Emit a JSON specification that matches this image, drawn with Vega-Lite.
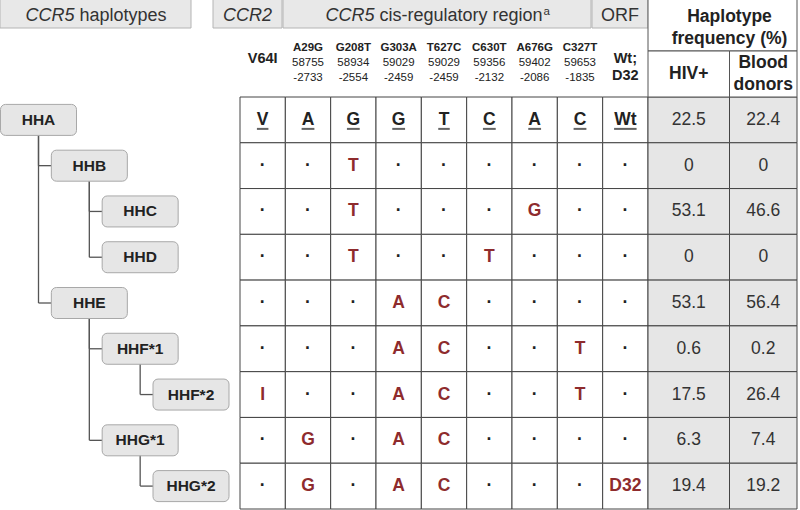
{
 "$schema": "https://vega.github.io/schema/vega-lite/v6.json",
 "width": 800, "height": 510, "padding": 0, "autosize": {"type": "none"},
 "background": "#ffffff",
 "config": {"view": {"stroke": null}, "text": {"font": "Liberation Sans"}},
 "datasets": {
  "cells": [
   {"r":0,"c":0,"a":"V"},{"r":0,"c":1,"a":"A"},{"r":0,"c":2,"a":"G"},{"r":0,"c":3,"a":"G"},{"r":0,"c":4,"a":"T"},{"r":0,"c":5,"a":"C"},{"r":0,"c":6,"a":"A"},{"r":0,"c":7,"a":"C"},{"r":0,"c":8,"a":"Wt"},
   {"r":1,"c":0,"a":"·"},{"r":1,"c":1,"a":"·"},{"r":1,"c":2,"a":"T"},{"r":1,"c":3,"a":"·"},{"r":1,"c":4,"a":"·"},{"r":1,"c":5,"a":"·"},{"r":1,"c":6,"a":"·"},{"r":1,"c":7,"a":"·"},{"r":1,"c":8,"a":"·"},
   {"r":2,"c":0,"a":"·"},{"r":2,"c":1,"a":"·"},{"r":2,"c":2,"a":"T"},{"r":2,"c":3,"a":"·"},{"r":2,"c":4,"a":"·"},{"r":2,"c":5,"a":"·"},{"r":2,"c":6,"a":"G"},{"r":2,"c":7,"a":"·"},{"r":2,"c":8,"a":"·"},
   {"r":3,"c":0,"a":"·"},{"r":3,"c":1,"a":"·"},{"r":3,"c":2,"a":"T"},{"r":3,"c":3,"a":"·"},{"r":3,"c":4,"a":"·"},{"r":3,"c":5,"a":"T"},{"r":3,"c":6,"a":"·"},{"r":3,"c":7,"a":"·"},{"r":3,"c":8,"a":"·"},
   {"r":4,"c":0,"a":"·"},{"r":4,"c":1,"a":"·"},{"r":4,"c":2,"a":"·"},{"r":4,"c":3,"a":"A"},{"r":4,"c":4,"a":"C"},{"r":4,"c":5,"a":"·"},{"r":4,"c":6,"a":"·"},{"r":4,"c":7,"a":"·"},{"r":4,"c":8,"a":"·"},
   {"r":5,"c":0,"a":"·"},{"r":5,"c":1,"a":"·"},{"r":5,"c":2,"a":"·"},{"r":5,"c":3,"a":"A"},{"r":5,"c":4,"a":"C"},{"r":5,"c":5,"a":"·"},{"r":5,"c":6,"a":"·"},{"r":5,"c":7,"a":"T"},{"r":5,"c":8,"a":"·"},
   {"r":6,"c":0,"a":"I"},{"r":6,"c":1,"a":"·"},{"r":6,"c":2,"a":"·"},{"r":6,"c":3,"a":"A"},{"r":6,"c":4,"a":"C"},{"r":6,"c":5,"a":"·"},{"r":6,"c":6,"a":"·"},{"r":6,"c":7,"a":"T"},{"r":6,"c":8,"a":"·"},
   {"r":7,"c":0,"a":"·"},{"r":7,"c":1,"a":"G"},{"r":7,"c":2,"a":"·"},{"r":7,"c":3,"a":"A"},{"r":7,"c":4,"a":"C"},{"r":7,"c":5,"a":"·"},{"r":7,"c":6,"a":"·"},{"r":7,"c":7,"a":"·"},{"r":7,"c":8,"a":"·"},
   {"r":8,"c":0,"a":"·"},{"r":8,"c":1,"a":"G"},{"r":8,"c":2,"a":"·"},{"r":8,"c":3,"a":"A"},{"r":8,"c":4,"a":"C"},{"r":8,"c":5,"a":"·"},{"r":8,"c":6,"a":"·"},{"r":8,"c":7,"a":"·"},{"r":8,"c":8,"a":"D32"}
  ],
  "freq": [
   {"r":0,"g":"HIV+","v":22.5},{"r":0,"g":"Blood donors","v":22.4},
   {"r":1,"g":"HIV+","v":0},{"r":1,"g":"Blood donors","v":0},
   {"r":2,"g":"HIV+","v":53.1},{"r":2,"g":"Blood donors","v":46.6},
   {"r":3,"g":"HIV+","v":0},{"r":3,"g":"Blood donors","v":0},
   {"r":4,"g":"HIV+","v":53.1},{"r":4,"g":"Blood donors","v":56.4},
   {"r":5,"g":"HIV+","v":0.6},{"r":5,"g":"Blood donors","v":0.2},
   {"r":6,"g":"HIV+","v":17.5},{"r":6,"g":"Blood donors","v":26.4},
   {"r":7,"g":"HIV+","v":6.3},{"r":7,"g":"Blood donors","v":7.4},
   {"r":8,"g":"HIV+","v":19.4},{"r":8,"g":"Blood donors","v":19.2}
  ],
  "header": [
   {"cell":"haplotypes","tier":"region","x0":0,"x1":1,"y0":0,"y1":1,"gene":"CCR5","rest":"haplotypes"},
   {"cell":"CCR2","tier":"region","x0":2,"x1":3,"y0":0,"y1":1,"gene":"CCR2","rest":""},
   {"cell":"cis","tier":"region","x0":4,"x1":5,"y0":0,"y1":1,"gene":"CCR5","rest":"cis-regulatory region","sup":"a"},
   {"cell":"ORF","tier":"region","x0":6,"x1":7,"y0":0,"y1":1,"gene":"","rest":"ORF"},
   {"cell":"Haplotype\nfrequency (%)","tier":"frequency","x0":7,"x1":9,"y0":0,"y1":2},
   {"cell":"HIV+","tier":"frequency","x0":7,"x1":8,"y0":2,"y1":3},
   {"cell":"Blood\ndonors","tier":"frequency","x0":8,"x1":9,"y0":2,"y1":3}
  ],
  "snps": [
   {"c":0,"name":"V64I"},
   {"c":1,"name":"A29G","pos":"58755","rel":"-2733"},
   {"c":2,"name":"G208T","pos":"58934","rel":"-2554"},
   {"c":3,"name":"G303A","pos":"59029","rel":"-2459"},
   {"c":4,"name":"T627C","pos":"59029","rel":"-2459"},
   {"c":5,"name":"C630T","pos":"59356","rel":"-2132"},
   {"c":6,"name":"A676G","pos":"59402","rel":"-2086"},
   {"c":7,"name":"C327T","pos":"59653","rel":"-1835"},
   {"c":8,"name":"Wt;\nD32"}
  ],
  "tree": [
   {"hap":"HHA","r":0,"lvl":0},
   {"hap":"HHB","r":1,"lvl":1,"pr":0,"plvl":0},
   {"hap":"HHC","r":2,"lvl":2,"pr":1,"plvl":1},
   {"hap":"HHD","r":3,"lvl":2,"pr":1,"plvl":1},
   {"hap":"HHE","r":4,"lvl":1,"pr":0,"plvl":0},
   {"hap":"HHF*1","r":5,"lvl":2,"pr":4,"plvl":1},
   {"hap":"HHF*2","r":6,"lvl":3,"pr":5,"plvl":2},
   {"hap":"HHG*1","r":7,"lvl":2,"pr":4,"plvl":1},
   {"hap":"HHG*2","r":8,"lvl":3,"pr":7,"plvl":2}
  ]
 },
 "resolve": {"scale": {"x": "independent", "y": "independent"}},
 "layer": [
  {
   "data": {"name": "cells"},
   "layer": [
    {"mark": {"type": "rect", "fill": "#ffffff", "stroke": "#444444", "strokeWidth": 1},
     "encoding": {
      "x": {"field": "c", "type": "ordinal", "axis": null, "scale": {"type": "band", "domain": [0,1,2,3,4,5,6,7,8], "range": [240, 648], "paddingInner": 0, "paddingOuter": 0}},
      "y": {"field": "r", "type": "ordinal", "axis": null, "scale": {"type": "band", "domain": [0,1,2,3,4,5,6,7,8], "range": [97, 509], "paddingInner": 0, "paddingOuter": 0}}
     }},
    {"mark": {"type": "text", "fontSize": 17.5, "fontWeight": "bold", "baseline": "middle", "align": "center"},
     "encoding": {
      "x": {"field": "c", "type": "ordinal", "axis": null, "scale": {"type": "band", "domain": [0,1,2,3,4,5,6,7,8], "range": [240, 648], "paddingInner": 0, "paddingOuter": 0}},
      "y": {"field": "r", "type": "ordinal", "axis": null, "scale": {"type": "band", "domain": [0,1,2,3,4,5,6,7,8], "range": [97, 509], "paddingInner": 0, "paddingOuter": 0}},
      "text": {"field": "a", "type": "nominal"},
      "color": {"condition": {"test": "datum.r == 0 || datum.a == '·'", "value": "#222222"}, "value": "#8e2b2d"}
     }},
    {"transform": [{"filter": "datum.r == 0"}],
     "mark": {"type": "tick", "orient": "horizontal", "thickness": 2, "yOffset": 9, "color": "#222222"},
     "encoding": {
      "x": {"field": "c", "type": "ordinal", "axis": null, "scale": {"type": "band", "domain": [0,1,2,3,4,5,6,7,8], "range": [240, 648], "paddingInner": 0, "paddingOuter": 0}},
      "y": {"field": "r", "type": "ordinal", "axis": null, "scale": {"type": "band", "domain": [0,1,2,3,4,5,6,7,8], "range": [97, 509], "paddingInner": 0, "paddingOuter": 0}},
      "size": {"condition": [{"test": "datum.a == 'Wt'", "value": 22.5}, {"test": "datum.a == 'V' || datum.a == 'T'", "value": 11.5}], "value": 12.8}
     }}
   ]
  },
  {
   "data": {"name": "freq"},
   "transform": [
    {"calculate": "datum.g == 'HIV+' ? 0 : 1", "as": "gi"},
    {"calculate": "datum.gi + 1", "as": "gi1"},
    {"calculate": "datum.gi + 0.5", "as": "gc"}
   ],
   "layer": [
    {"mark": {"type": "rect", "fill": "#e6e6e6", "stroke": "#444444", "strokeWidth": 1},
     "encoding": {
      "x": {"field": "gi", "type": "quantitative", "axis": null, "scale": {"type": "linear", "domain": [0,1,2], "range": [648, 729.5, 797], "nice": false, "zero": false}},
      "x2": {"field": "gi1"},
      "y": {"field": "r", "type": "ordinal", "axis": null, "scale": {"type": "band", "domain": [0,1,2,3,4,5,6,7,8], "range": [97, 509], "paddingInner": 0, "paddingOuter": 0}}
     }},
    {"mark": {"type": "text", "fontSize": 17.5, "color": "#333333", "baseline": "middle", "align": "center"},
     "encoding": {
      "x": {"field": "gc", "type": "quantitative", "axis": null, "scale": {"type": "linear", "domain": [0,1,2], "range": [648, 729.5, 797], "nice": false, "zero": false}},
      "y": {"field": "r", "type": "ordinal", "axis": null, "scale": {"type": "band", "domain": [0,1,2,3,4,5,6,7,8], "range": [97, 509], "paddingInner": 0, "paddingOuter": 0}},
      "text": {"field": "v", "type": "nominal"}
     }}
   ]
  },
  {
   "data": {"name": "header"},
   "transform": [
    {"calculate": "(datum.x0 + datum.x1) / 2", "as": "xm"},
    {"calculate": "(datum.y0 + datum.y1) / 2", "as": "ym"}
   ],
   "layer": [
    {"mark": {"type": "rect", "strokeWidth": 1},
     "encoding": {
      "x": {"field": "x0", "type": "quantitative", "axis": null, "scale": {"type": "linear", "domain": [0,1,2,3,4,5,6,7,8,9], "range": [0,191,213,282,283,591,592,648,729.5,797], "nice": false, "zero": false}},
      "x2": {"field": "x1"},
      "y": {"field": "y0", "type": "quantitative", "axis": null, "scale": {"type": "linear", "domain": [0,1,2,3], "range": [-1,28,51,97], "nice": false, "zero": false}},
      "y2": {"field": "y1"},
      "fill": {"condition": {"test": "datum.tier == 'region'", "value": "#e8e8e8"}, "value": "#ffffff"},
      "stroke": {"condition": {"test": "datum.tier == 'region'", "value": "#b4b4b4"}, "value": "#555555"}
     }},
    {"transform": [{"filter": "datum.cell == 'HIV+'"}],
     "mark": {"type": "text", "fontSize": 17.5, "fontWeight": "bold", "color": "#222222", "baseline": "middle", "align": "center"},
     "encoding": {
      "x": {"field": "xm", "type": "quantitative", "axis": null, "scale": {"type": "linear", "domain": [0,1,2,3,4,5,6,7,8,9], "range": [0,191,213,282,283,591,592,648,729.5,797], "nice": false, "zero": false}},
      "y": {"field": "ym", "type": "quantitative", "axis": null, "scale": {"type": "linear", "domain": [0,1,2,3], "range": [-1,28,51,97], "nice": false, "zero": false}},
      "text": {"field": "cell", "type": "nominal"}
     }},
    {"transform": [{"filter": "datum.tier == 'frequency' && datum.cell != 'HIV+'"}],
     "mark": {"type": "text", "fontSize": 17.5, "fontWeight": "bold", "color": "#222222", "baseline": "middle", "align": "center", "lineBreak": "\n", "lineHeight": 22, "dy": -11},
     "encoding": {
      "x": {"field": "xm", "type": "quantitative", "axis": null, "scale": {"type": "linear", "domain": [0,1,2,3,4,5,6,7,8,9], "range": [0,191,213,282,283,591,592,648,729.5,797], "nice": false, "zero": false}},
      "y": {"field": "ym", "type": "quantitative", "axis": null, "scale": {"type": "linear", "domain": [0,1,2,3], "range": [-1,28,51,97], "nice": false, "zero": false}},
      "text": {"field": "cell", "type": "nominal"}
     }},
    {"transform": [{"filter": "datum.cell == 'haplotypes'"}],
     "mark": {"type": "text", "fontSize": 18, "fontStyle": "italic", "color": "#333333", "baseline": "alphabetic", "align": "right", "dx": -21, "dy": -7.5},
     "encoding": {
      "x": {"field": "xm", "type": "quantitative", "axis": null, "scale": {"type": "linear", "domain": [0,1,2,3,4,5,6,7,8,9], "range": [0,191,213,282,283,591,592,648,729.5,797], "nice": false, "zero": false}},
      "y": {"field": "y1", "type": "quantitative", "axis": null, "scale": {"type": "linear", "domain": [0,1,2,3], "range": [-1,28,51,97], "nice": false, "zero": false}},
      "text": {"field": "gene", "type": "nominal"}
     }},
    {"transform": [{"filter": "datum.cell == 'haplotypes'"}],
     "mark": {"type": "text", "fontSize": 18, "color": "#333333", "baseline": "alphabetic", "align": "left", "dx": -16, "dy": -7.5},
     "encoding": {
      "x": {"field": "xm", "type": "quantitative", "axis": null, "scale": {"type": "linear", "domain": [0,1,2,3,4,5,6,7,8,9], "range": [0,191,213,282,283,591,592,648,729.5,797], "nice": false, "zero": false}},
      "y": {"field": "y1", "type": "quantitative", "axis": null, "scale": {"type": "linear", "domain": [0,1,2,3], "range": [-1,28,51,97], "nice": false, "zero": false}},
      "text": {"field": "rest", "type": "nominal"}
     }},
    {"transform": [{"filter": "datum.cell == 'CCR2'"}],
     "mark": {"type": "text", "fontSize": 18, "fontStyle": "italic", "color": "#333333", "baseline": "alphabetic", "align": "center", "dy": -7.5},
     "encoding": {
      "x": {"field": "xm", "type": "quantitative", "axis": null, "scale": {"type": "linear", "domain": [0,1,2,3,4,5,6,7,8,9], "range": [0,191,213,282,283,591,592,648,729.5,797], "nice": false, "zero": false}},
      "y": {"field": "y1", "type": "quantitative", "axis": null, "scale": {"type": "linear", "domain": [0,1,2,3], "range": [-1,28,51,97], "nice": false, "zero": false}},
      "text": {"field": "gene", "type": "nominal"}
     }},
    {"transform": [{"filter": "datum.cell == 'cis'"}],
     "mark": {"type": "text", "fontSize": 18, "fontStyle": "italic", "color": "#333333", "baseline": "alphabetic", "align": "right", "dx": -62.5, "dy": -7.5},
     "encoding": {
      "x": {"field": "xm", "type": "quantitative", "axis": null, "scale": {"type": "linear", "domain": [0,1,2,3,4,5,6,7,8,9], "range": [0,191,213,282,283,591,592,648,729.5,797], "nice": false, "zero": false}},
      "y": {"field": "y1", "type": "quantitative", "axis": null, "scale": {"type": "linear", "domain": [0,1,2,3], "range": [-1,28,51,97], "nice": false, "zero": false}},
      "text": {"field": "gene", "type": "nominal"}
     }},
    {"transform": [{"filter": "datum.cell == 'cis'"}],
     "mark": {"type": "text", "fontSize": 18, "color": "#333333", "baseline": "alphabetic", "align": "left", "dx": -57.5, "dy": -7.5},
     "encoding": {
      "x": {"field": "xm", "type": "quantitative", "axis": null, "scale": {"type": "linear", "domain": [0,1,2,3,4,5,6,7,8,9], "range": [0,191,213,282,283,591,592,648,729.5,797], "nice": false, "zero": false}},
      "y": {"field": "y1", "type": "quantitative", "axis": null, "scale": {"type": "linear", "domain": [0,1,2,3], "range": [-1,28,51,97], "nice": false, "zero": false}},
      "text": {"field": "rest", "type": "nominal"}
     }},
    {"transform": [{"filter": "datum.cell == 'cis'"}],
     "mark": {"type": "text", "fontSize": 11.5, "color": "#333333", "baseline": "alphabetic", "align": "left", "dx": 106.5, "dy": -13},
     "encoding": {
      "x": {"field": "xm", "type": "quantitative", "axis": null, "scale": {"type": "linear", "domain": [0,1,2,3,4,5,6,7,8,9], "range": [0,191,213,282,283,591,592,648,729.5,797], "nice": false, "zero": false}},
      "y": {"field": "y1", "type": "quantitative", "axis": null, "scale": {"type": "linear", "domain": [0,1,2,3], "range": [-1,28,51,97], "nice": false, "zero": false}},
      "text": {"field": "sup", "type": "nominal"}
     }},
    {"transform": [{"filter": "datum.cell == 'ORF'"}],
     "mark": {"type": "text", "fontSize": 18, "color": "#333333", "baseline": "alphabetic", "align": "center", "dy": -7.5},
     "encoding": {
      "x": {"field": "xm", "type": "quantitative", "axis": null, "scale": {"type": "linear", "domain": [0,1,2,3,4,5,6,7,8,9], "range": [0,191,213,282,283,591,592,648,729.5,797], "nice": false, "zero": false}},
      "y": {"field": "y1", "type": "quantitative", "axis": null, "scale": {"type": "linear", "domain": [0,1,2,3], "range": [-1,28,51,97], "nice": false, "zero": false}},
      "text": {"field": "rest", "type": "nominal"}
     }}
   ]
  },
  {
   "data": {"name": "snps"},
   "layer": [
    {"transform": [{"filter": "datum.c >= 1 && datum.c <= 7"}, {"fold": ["pos", "rel"], "as": ["key", "val"]}],
     "mark": {"type": "text", "fontSize": 11.5, "color": "#222222", "baseline": "alphabetic", "align": "center"},
     "encoding": {
      "x": {"field": "c", "type": "ordinal", "axis": null, "scale": {"type": "band", "domain": [0,1,2,3,4,5,6,7,8], "range": [240, 648], "paddingInner": 0, "paddingOuter": 0}},
      "y": {"field": "key", "type": "ordinal", "axis": null, "scale": {"type": "point", "domain": ["name", "pos", "rel"], "range": [51, 81], "padding": 0}},
      "text": {"field": "val", "type": "nominal"}
     }},
    {"transform": [{"filter": "datum.c >= 1 && datum.c <= 7"}],
     "mark": {"type": "text", "fontSize": 11.5, "fontWeight": "bold", "color": "#222222", "baseline": "alphabetic", "align": "center"},
     "encoding": {
      "x": {"field": "c", "type": "ordinal", "axis": null, "scale": {"type": "band", "domain": [0,1,2,3,4,5,6,7,8], "range": [240, 648], "paddingInner": 0, "paddingOuter": 0}},
      "y": {"datum": "name", "type": "ordinal", "axis": null, "scale": {"type": "point", "domain": ["name", "pos", "rel"], "range": [51, 81], "padding": 0}},
      "text": {"field": "name", "type": "nominal"}
     }},
    {"transform": [{"filter": "datum.c == 0 || datum.c == 8"}],
     "mark": {"type": "text", "fontSize": 14.5, "fontWeight": "bold", "color": "#222222", "baseline": "alphabetic", "align": "center", "lineBreak": "\n", "lineHeight": 17, "dy": -3},
     "encoding": {
      "x": {"field": "c", "type": "ordinal", "axis": null, "scale": {"type": "band", "domain": [0,1,2,3,4,5,6,7,8], "range": [240, 648], "paddingInner": 0, "paddingOuter": 0}},
      "y": {"datum": "pos", "type": "ordinal", "axis": null, "scale": {"type": "point", "domain": ["name", "pos", "rel"], "range": [51, 81], "padding": 0}},
      "text": {"field": "name", "type": "nominal"}
     }}
   ]
  },
  {
   "data": {"name": "tree"},
   "layer": [
    {"transform": [{"filter": "isValid(datum.pr)"}],
     "mark": {"type": "rule", "color": "#555555", "strokeWidth": 1.3},
     "encoding": {
      "x": {"field": "plvl", "type": "quantitative", "axis": null, "scale": {"type": "linear", "domain": [0,3], "range": [38.5, 191], "nice": false, "zero": false}},
      "y": {"field": "pr", "type": "quantitative", "axis": null, "scale": {"type": "linear", "domain": [0,8], "range": [119.9, 486.1], "nice": false, "zero": false}},
      "y2": {"field": "r"}
     }},
    {"transform": [{"filter": "isValid(datum.pr)"}],
     "mark": {"type": "rule", "color": "#555555", "strokeWidth": 1.3, "x2Offset": -38},
     "encoding": {
      "x": {"field": "plvl", "type": "quantitative", "axis": null, "scale": {"type": "linear", "domain": [0,3], "range": [38.5, 191], "nice": false, "zero": false}},
      "x2": {"field": "lvl"},
      "y": {"field": "r", "type": "quantitative", "axis": null, "scale": {"type": "linear", "domain": [0,8], "range": [119.9, 486.1], "nice": false, "zero": false}}
     }},
    {"mark": {"type": "rect", "width": 76, "height": 31, "cornerRadius": 5, "fill": "#e6e6e6", "stroke": "#a8a8a8", "strokeWidth": 1},
     "encoding": {
      "x": {"field": "lvl", "type": "quantitative", "axis": null, "scale": {"type": "linear", "domain": [0,3], "range": [38.5, 191], "nice": false, "zero": false}},
      "y": {"field": "r", "type": "quantitative", "axis": null, "scale": {"type": "linear", "domain": [0,8], "range": [119.9, 486.1], "nice": false, "zero": false}}
     }},
    {"mark": {"type": "text", "fontSize": 15.5, "fontWeight": "bold", "color": "#222222", "baseline": "middle", "align": "center"},
     "encoding": {
      "x": {"field": "lvl", "type": "quantitative", "axis": null, "scale": {"type": "linear", "domain": [0,3], "range": [38.5, 191], "nice": false, "zero": false}},
      "y": {"field": "r", "type": "quantitative", "axis": null, "scale": {"type": "linear", "domain": [0,8], "range": [119.9, 486.1], "nice": false, "zero": false}},
      "text": {"field": "hap", "type": "nominal"}
     }}
   ]
  }
 ]
}
